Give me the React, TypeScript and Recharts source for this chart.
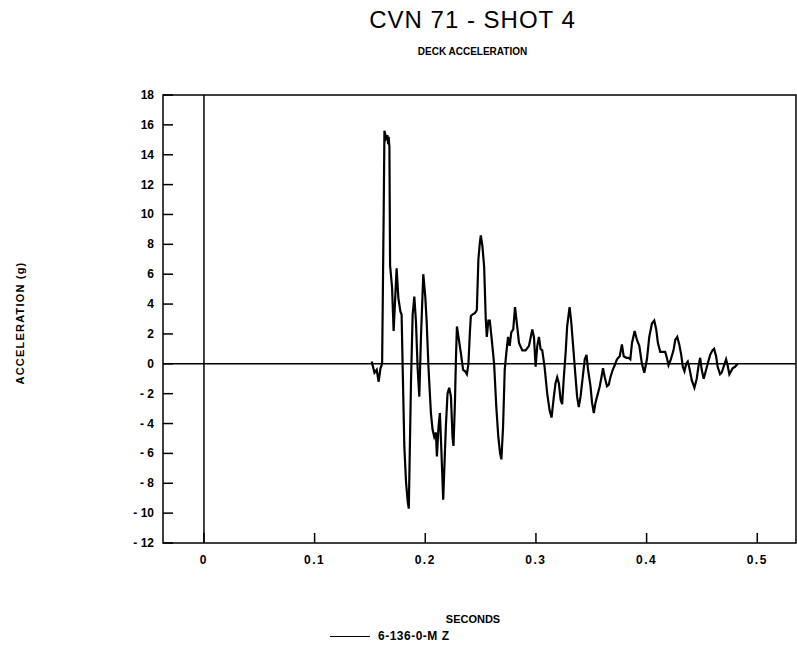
import React from 'react';
import { LineChart, Line, XAxis, YAxis, ReferenceLine, ReferenceArea } from 'recharts';

// time (s) and deck acceleration (g)
const times = [
  0.1516, 0.1541, 0.1561, 0.1579, 0.1595, 0.161, 0.1624, 0.1631, 0.1646, 0.1658,
  0.1664, 0.1669, 0.1676, 0.1682, 0.17, 0.1714, 0.1727, 0.1741, 0.1757, 0.1775,
  0.1786, 0.1795, 0.1811, 0.1826, 0.1841, 0.1851, 0.1871, 0.1886, 0.1901, 0.1916,
  0.1931, 0.1946, 0.1961, 0.1982, 0.2, 0.2012, 0.203, 0.2051, 0.2066, 0.2081,
  0.2096, 0.2105, 0.212, 0.2132, 0.2144, 0.2162, 0.2186, 0.2201, 0.2216, 0.2232,
  0.2246, 0.2255, 0.2268, 0.2277, 0.2286, 0.23, 0.2322, 0.2342, 0.236, 0.2376,
  0.239, 0.2403, 0.2412, 0.2426, 0.245, 0.2466, 0.248, 0.2493, 0.2502, 0.2516,
  0.2532, 0.2547, 0.2556, 0.257, 0.2583, 0.2601, 0.2622, 0.2642, 0.266, 0.2676,
  0.2688, 0.2703, 0.2718, 0.2732, 0.2748, 0.2763, 0.2777, 0.2795, 0.2811, 0.2829,
  0.2847, 0.2877, 0.2907, 0.2937, 0.2967, 0.2982, 0.2997, 0.3012, 0.3027, 0.3042,
  0.3057, 0.3078, 0.3102, 0.3123, 0.3141, 0.3162, 0.3177, 0.3192, 0.3207, 0.3223,
  0.3237, 0.3252, 0.3268, 0.3282, 0.3304, 0.3318, 0.3336, 0.3358, 0.3372, 0.3387,
  0.3403, 0.3423, 0.3441, 0.3457, 0.3471, 0.3493, 0.3507, 0.3523, 0.3538, 0.3552,
  0.3577, 0.3592, 0.3606, 0.3622, 0.3642, 0.3658, 0.3673, 0.3694, 0.3712, 0.3732,
  0.3757, 0.3777, 0.3793, 0.3817, 0.3838, 0.3853, 0.3868, 0.3892, 0.3913, 0.3934,
  0.3958, 0.3979, 0.4003, 0.4024, 0.4048, 0.4069, 0.4087, 0.4102, 0.4123, 0.4144,
  0.4168, 0.4183, 0.4198, 0.4219, 0.4243, 0.4259, 0.4277, 0.4295, 0.4313, 0.4327,
  0.4342, 0.4358, 0.4372, 0.4387, 0.4408, 0.4432, 0.4453, 0.4468, 0.4484, 0.4498,
  0.4516, 0.4534, 0.4552, 0.4574, 0.4595, 0.461, 0.4628, 0.4642, 0.4664, 0.4678,
  0.47, 0.4718, 0.4732, 0.4748, 0.4763, 0.4777, 0.4799, 0.4823,
];

const accel = [
  0.15, -0.6, -0.4, -1.2, -0.3, 0, 10, 15.6, 15.1, 15.3,
  14.7, 15.2, 14.5, 6.6, 5.1, 2.2, 4.2, 6.4, 4.4, 3.5,
  3.3, 0, -5.6, -7.9, -9.2, -9.7, -1.2, 3.3, 4.5, 2.8,
  -0.3, -2.2, 1.8, 6.0, 4.5, 2.9, -0.4, -3.3, -4.4, -4.9,
  -4.6, -6.2, -4.2, -3.3, -5.5, -9.1, -4.2, -2.0, -1.6, -2.2,
  -4.9, -5.5, -2.6, 0.3, 2.5, 1.8, 0.7, -0.4, -0.5, -0.7,
  0, 2.1, 3.2, 3.3, 3.4, 3.6, 7.0, 8.1, 8.6, 7.9,
  6.5, 2.9, 1.8, 2.9, 2.9, 1.6, 0, -2.9, -4.9, -6.0,
  -6.4, -4.2, -0.4, 0.7, 1.8, 1.2, 2.1, 2.3, 3.8, 2.6,
  1.4, 0.9, 0.9, 1.2, 2.3, 1.8, -0.2, 1.2, 1.8, 1.0,
  0.9, -0.2, -2.0, -3.1, -3.6, -2.2, -1.3, -0.9, -1.3, -2.4,
  -2.7, -0.9, 0.7, 2.5, 3.8, 2.9, 1.2, -0.9, -2.2, -2.9,
  -2.2, -0.9, 0.3, 0.6, -0.4, -1.5, -2.6, -3.3, -2.6, -2.2,
  -1.5, -0.9, -0.3, -0.9, -1.5, -1.4, -0.9, -0.4, -0.1, 0.3,
  0.5, 1.3, 0.5, 0.4, 0.4, 0.3, 1.4, 2.2, 1.6, 1.2,
  0, -0.6, 0.3, 1.8, 2.7, 2.9, 2.3, 1.4, 0.8, 0.8,
  0.8, 0.4, -0.1, 0.3, 0.9, 1.6, 1.8, 1.3, 0.6, -0.2,
  -0.5, 0, 0.15, -0.3, -1.1, -1.6, -1.0, -0.2, 0.4, -0.4,
  -1.0, -0.5, 0, 0.6, 0.9, 1.0, 0.5, -0.2, -0.7, -0.6,
  -0.1, 0.3, -0.1, -0.7, -0.5, -0.3, -0.2, 0,
];

const xTicks = [0, 0.1, 0.2, 0.3, 0.4, 0.5];
const yTicks = [-12, -10, -8, -6, -4, -2, 0, 2, 4, 6, 8, 10, 12, 14, 16, 18];

const data = times.map((t, i) => ({ t, accel: accel[i] }));

const labelFont = '"Liberation Sans", Arial, sans-serif';

const YTick = ({ x, y, payload }: any) => (
  <g>
    <line x1={x} x2={x + 10} y1={y} y2={y} stroke="#000" strokeWidth={1.5} />
    <text x={x - 9} y={y} dy={4} textAnchor="end" fontSize={12} fontWeight="bold"
      fontFamily={labelFont} fill="#000">
      {payload.value < 0 ? `- ${Math.abs(payload.value)}` : payload.value}
    </text>
  </g>
);

const XTick = ({ x, y, payload }: any) => (
  <g>
    <line x1={x} x2={x} y1={y} y2={y - 10} stroke="#000" strokeWidth={1.5} />
    <text x={x} y={y} dy={21} textAnchor="middle" fontSize={12} fontWeight="bold"
      fontFamily={labelFont} fill="#000" letterSpacing={1.5}>
      {String(payload.value)}
    </text>
  </g>
);

export default function App() {
  return (
    <div style={{ position: 'absolute', left: 0, top: 0, width: 797, height: 657, background: '#fff' }}>
      <div style={{ position: 'absolute', left: 0, width: 797, top: 6, textAlign: 'center', paddingLeft: 148, boxSizing: 'border-box',
        fontFamily: labelFont, fontSize: 24, color: '#000', letterSpacing: 1 }}>
        CVN 71 - SHOT 4
      </div>
      <div style={{ position: 'absolute', left: 0, width: 797, top: 46, textAlign: 'center', paddingLeft: 148, boxSizing: 'border-box',
        fontFamily: labelFont, fontSize: 10, fontWeight: 'bold', color: '#000' }}>
        DECK ACCELERATION
      </div>
      <div style={{ position: 'absolute', left: 20, top: 323, transform: 'translate(-50%, -50%) rotate(-90deg)', whiteSpace: 'nowrap',
        fontFamily: labelFont, fontSize: 11, fontWeight: 'bold', color: '#000', letterSpacing: 1.2 }}>
        ACCELERATION (g)
      </div>
      <div style={{ position: 'absolute', left: 473, top: 619, transform: 'translate(-50%, -50%)', whiteSpace: 'nowrap',
        fontFamily: labelFont, fontSize: 11, fontWeight: 'bold', color: '#000' }}>
        SECONDS
      </div>
      <div style={{ position: 'absolute', left: 330, top: 629, display: 'flex', alignItems: 'center',
        fontFamily: labelFont, fontSize: 12, fontWeight: 'bold', color: '#000', letterSpacing: 0.5 }}>
        <span style={{ display: 'inline-block', width: 40, borderTop: '1.5px solid #000', marginRight: 8 }} />
        6-136-0-M Z
      </div>
      <LineChart width={797} height={657} data={data}
        margin={{ top: 95, right: 1, bottom: 84, left: 123 }}>
        <XAxis dataKey="t" type="number" domain={[-0.037, 0.535]} ticks={xTicks} allowDataOverflow
          axisLine={false} tickLine={false} tickSize={0} tickMargin={0} height={30} tick={<XTick />} />
        <YAxis type="number" domain={[-12, 18]} ticks={yTicks} allowDataOverflow width={40}
          axisLine={false} tickLine={false} tickSize={0} tickMargin={0} tick={<YTick />} />
        <ReferenceArea x1={-0.037} x2={0.535} y1={-12} y2={18} fill="none" stroke="#000" strokeWidth={1.5} />
        <ReferenceLine y={0} stroke="#000" strokeWidth={1.5} />
        <ReferenceLine x={0} stroke="#000" strokeWidth={1.5} />
        <Line type="linear" dataKey="accel" stroke="#000" strokeWidth={2.2} dot={false} isAnimationActive={false} />
      </LineChart>
    </div>
  );
}
